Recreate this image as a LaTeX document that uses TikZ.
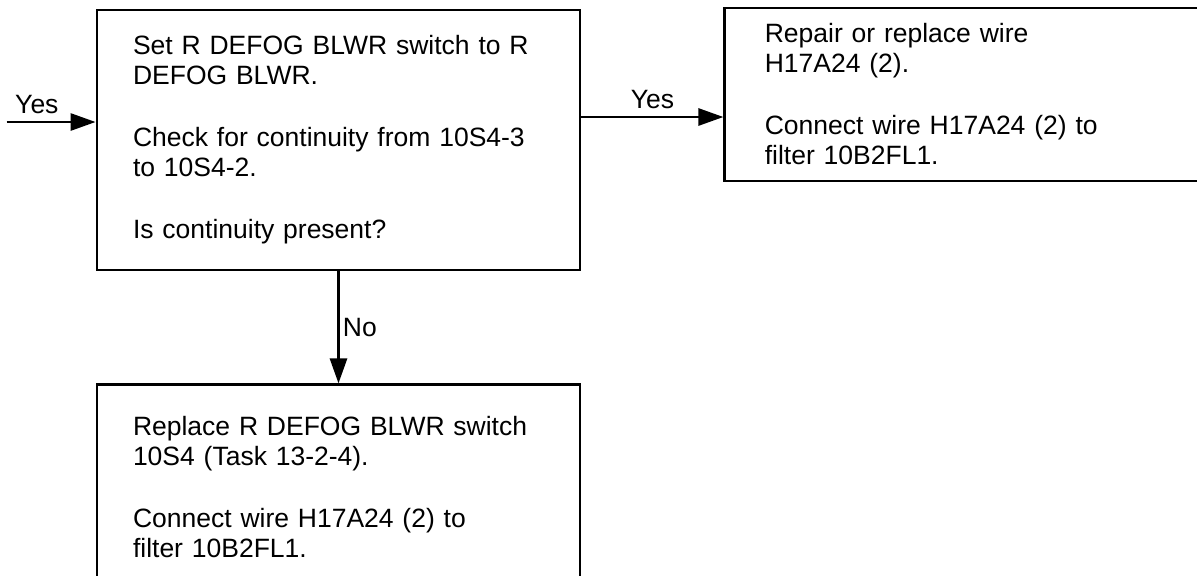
\documentclass[tikz,border=0pt]{standalone}
\usepackage{fontspec}
\setmainfont{Liberation Sans}
\usetikzlibrary{arrows.meta, positioning}

\begin{document}
\begin{tikzpicture}[
        >={Triangle[length=12.5pt, width=8.5pt]},
        node distance=56pt and 71pt,
        box/.style={draw, rectangle, line width=1.4pt, align=left,
            inner xsep=18pt, inner ysep=0pt,
            font=\fontsize{13.25pt}{15pt}\selectfont},
        line/.style={draw, line width=1.4pt, ->},
        lbl/.style={font=\fontsize{13.25pt}{15pt}\selectfont},
    ]

    % page
    \path[use as bounding box, fill=white] (0,0) rectangle (598.5pt,-287.5pt);

    % 1. Continuity check
    \node[box, text width=205.5pt, minimum height=130pt] at (169.25pt,-70pt) (check)
        {Set R DEFOG BLWR switch to R\\DEFOG BLWR.\\[16pt]
         Check for continuity from 10S4-3\\to 10S4-2.\\[16pt]
         Is continuity present?};

    % 2. Yes branch (runs off the right edge)
    \node[box, text width=220pt, inner xsep=20pt, minimum height=86.5pt,
          right=71pt of check.north east, anchor=north west, yshift=1pt] (repair)
        {Repair or replace wire\\H17A24 (2).\\[16pt]
         Connect wire H17A24 (2) to\\filter 10B2FL1.};

    % 3. No branch (runs off the bottom edge)
    \node[box, text width=205.5pt, minimum height=102.5pt,
          below=56pt of check] (replace)
        {Replace R DEFOG BLWR switch\\10S4 (Task 13-2-4).\\[16pt]
         Connect wire H17A24 (2) to\\filter 10B2FL1.};

    % --- Arrows ---
    \coordinate (entry) at ([xshift=-44.5pt, yshift=9pt]check.west);
    \coordinate (exit) at ([yshift=11.5pt]check.east);
    \path[line] (entry) -- node[lbl, pos=0.34, above] {Yes} (entry -| check.west);
    \path[line] (exit) -- node[lbl, above] {Yes} (exit -| repair.west);
    \path[line] (check) -- node[lbl, right, inner sep=1.5pt] {No} (replace);

\end{tikzpicture}
\end{document}
